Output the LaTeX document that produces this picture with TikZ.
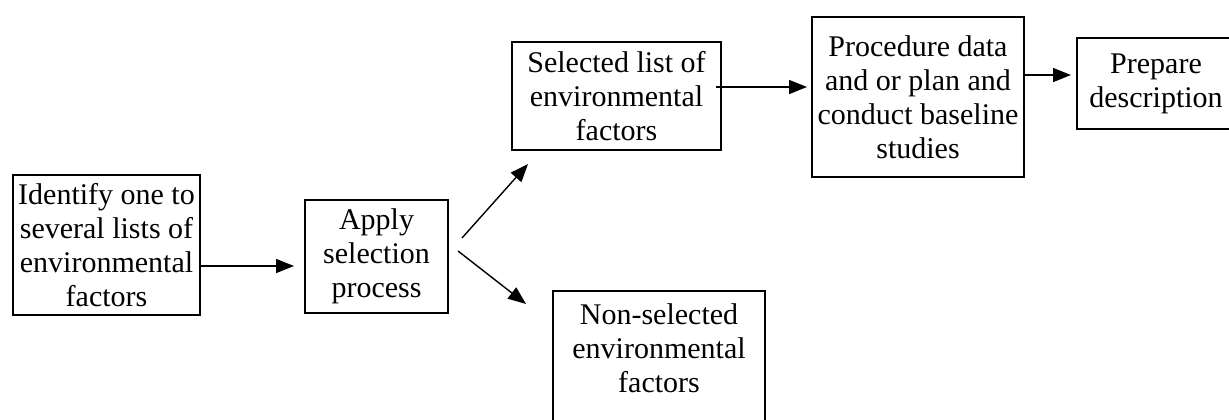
\documentclass[tikz,border=0pt]{standalone}
\usepackage{fontspec}
\setmainfont{Liberation Serif}
\usetikzlibrary{arrows.meta}

\begin{document}
\begin{tikzpicture}[%%
  x=0.5pt,y=-0.5pt,%%
  boxStyle/.style={draw,line width=1pt,align=center,inner sep=0pt,%%
    font=\fontsize{15pt}{17pt}\selectfont},%%
  arrowStyle/.style={-{Triangle[length=9pt,width=7pt]},line width=0.7pt}%%
]
%%
%% The page is the size of the scanned figure; boxes run off its edges.
\clip (0,0) rectangle (1229,419);
%%
%% The boxes, placed at their centres.
\node[boxStyle,minimum width=93.5pt,minimum height=70pt] (identify)
  at (106.5,245) {Identify one to\\several lists of\\environmental\\factors};
\node[boxStyle,minimum width=71.5pt,minimum height=56.5pt] (apply)
  at (376.5,256.5) {Apply\\selection\\process};
\node[boxStyle,minimum width=104.5pt,minimum height=54pt] (selected)
  at (616.5,96) {Selected list of\\environmental\\factors};
\node[boxStyle,minimum width=106pt,minimum height=80pt] (procedure)
  at (918,97) {Procedure data\\and or plan and\\conduct baseline\\studies};
\node[boxStyle,minimum width=79pt,minimum height=45.5pt] (prepare)
  at (1156,83.5) {Prepare\\description};
%% This one runs off the bottom, its text sits near the top.
\node[boxStyle,minimum width=106pt,minimum height=74.5pt,text depth=17.5pt]
  (nonselected) at (659,365.5) {Non-selected\\environmental\\factors};
%%
%% The connectors.
\draw[arrowStyle] ([yshift=-10.5pt]identify.east) -- ([shift={(-10,9.5)}]apply.west);
\draw[arrowStyle] ([shift={(13,-18.5)}]apply.east)
  -- ([shift={(17,13)}]selected.south west);
\draw[arrowStyle] ([shift={(9,-5.5)}]apply.east)
  -- ([shift={(-26,14)}]nonselected.north west);
\draw[arrowStyle] ([shift={(-6,-9)}]selected.east)
  -- ([shift={(-4,-10)}]procedure.west);
\draw[arrowStyle] ([yshift=11pt]procedure.east)
  -- ([shift={(-5,-8.5)}]prepare.west);
\end{tikzpicture}
\end{document}
